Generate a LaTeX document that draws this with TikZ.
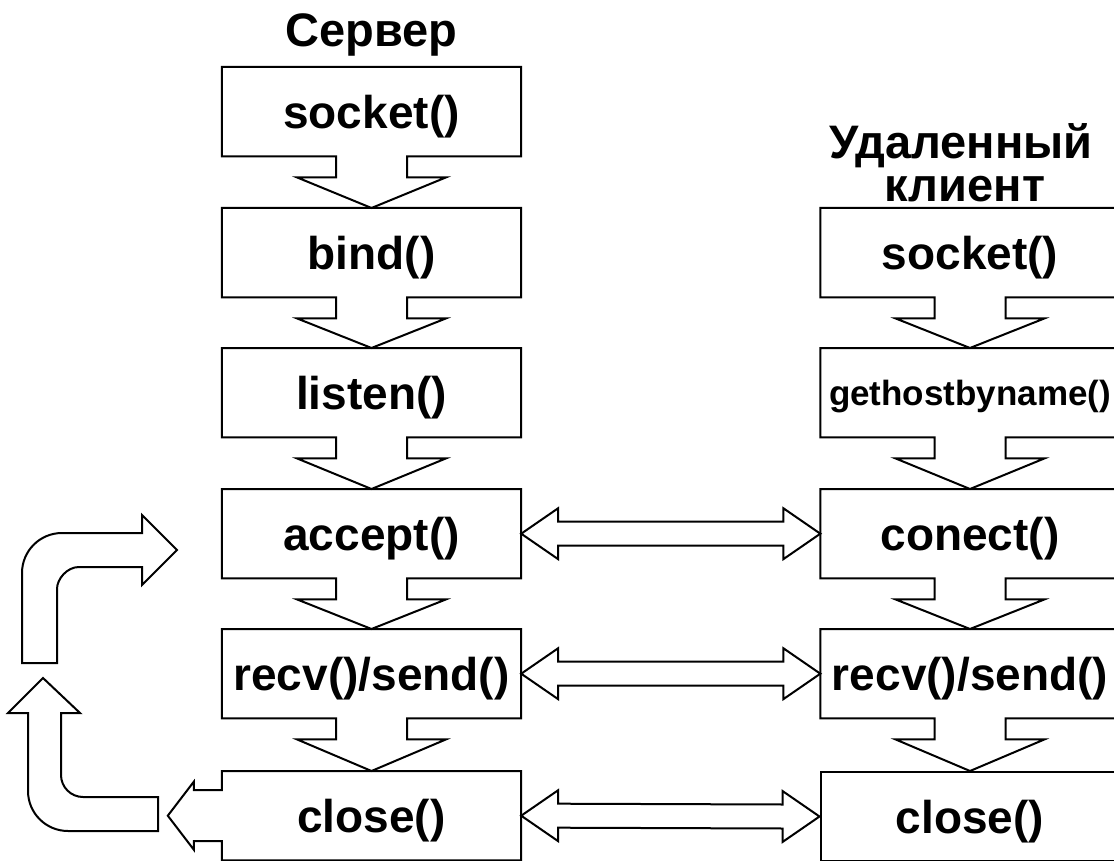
\documentclass[tikz,border=0pt]{standalone}
\usepackage{fontspec}
\setmainfont{Liberation Sans}
\usetikzlibrary{calc}
\newcommand{\downcall}[2]{%
  \draw[outline] (#1.north west) -- (#1.north east) -- (#1.south east)
    -- ($(#1.south)+(35.5,0)$) -- ++(0,21) -- ++(39,0)
    -- (#2.north)
    -- ($(#1.south)+(-74.5,21)$) -- ++(39,0) -- ++(0,-21)
    -- (#1.south west) -- cycle;}
\newcommand{\dblarrow}[2]{%
  \draw[outline] (#1.east) -- ++(37,-25.5) -- ++(0,13.5)
    -- ($(#2.west)+(-37,-12)$) -- ++(0,-13.5) -- (#2.west)
    -- ++(-37,25.5) -- ++(0,-13.5)
    -- ($(#1.east)+(37,12)$) -- ++(0,13.5) -- cycle;}
\begin{document}
\begin{tikzpicture}[x=1pt,y=-1pt,
  outline/.style={line width=2pt, line join=miter},
  box/.style={minimum width=299pt, minimum height=89pt, inner sep=0pt,
    text depth=0pt, anchor=north, font=\fontsize{46}{46}\selectfont\bfseries},
  plainbox/.style={box, draw, line width=2pt},
  title/.style={font=\fontsize{47}{44}\selectfont\bfseries, anchor=base}]
\useasboundingbox (0,0) rectangle (1114,861);
\clip (0,0) rectangle (1114,861);

% titles
\node[title] (ts) at (371.5,47) {Сервер};
\node[title] (tc1) at (961,159) {Удаленный};
\node[title] (tc2) at (965,202) {клиент};

% server column
\node[box] (s1) at (371.5,67)  {socket()};
\node[box] (s2) at (371.5,208) {bind()};
\node[box] (s3) at (371.5,348) {listen()};
\node[box] (s4) at (371.5,489) {accept()};
\node[box] (s5) at (371.5,629) {recv()/send()};
\node[box] (s6) at (371.5,771) {close()};

% client column
\node[box] (c1) at (970,208) {socket()};
\node[box, font=\fontsize{35}{35}\selectfont\bfseries] (c2) at (970,348) {gethostbyname()};
\node[box] (c3) at (970,489) {conect()};
\node[box] (c4) at (970,629) {recv()/send()};
\node[plainbox] (c5) at (970,771) {close()};

\downcall{s1}{s2}
\downcall{s2}{s3}
\downcall{s3}{s4}
\downcall{s4}{s5}
\downcall{s5}{s6}
\downcall{c1}{c2}
\downcall{c2}{c3}
\downcall{c3}{c4}
\downcall{c4}{c5}

% server close box with left callout
\draw[outline] (s6.north west) -- (s6.north east) -- (s6.south east) -- (s6.south west)
  -- ($(s6.west)+(0,25.5)$) -- ++(-28,0) -- ++(0,8.5)
  -- ($(s6.west)+(-54,0)$) -- ($(s6.west)+(-28,-34)$) -- ++(0,8.5) -- ++(28,0) -- cycle;

% double arrows
\dblarrow{s4}{c3}
\dblarrow{s5}{c4}
\dblarrow{s6}{c5}

% loop arrows on the left
\draw[outline] (158,797) -- (158,831) -- (68,831)
  .. controls (45.9,831) and (28,813.1) .. (28,791)
  -- (28,713) -- (8,713) -- (43,678) -- (80,713) -- (61,713) -- (61,775)
  .. controls (61,787.1) and (70.9,797) .. (83,797) -- cycle;
\draw[outline] (57,663) -- (22,663) -- (22,573)
  .. controls (22,550.9) and (39.9,533) .. (62,533)
  -- (142,533) -- (142,515) -- (177,550) -- (142,585) -- (142,567) -- (79,567)
  .. controls (66.9,567) and (57,579.1) .. (57,589) -- cycle;
\end{tikzpicture}
\end{document}
